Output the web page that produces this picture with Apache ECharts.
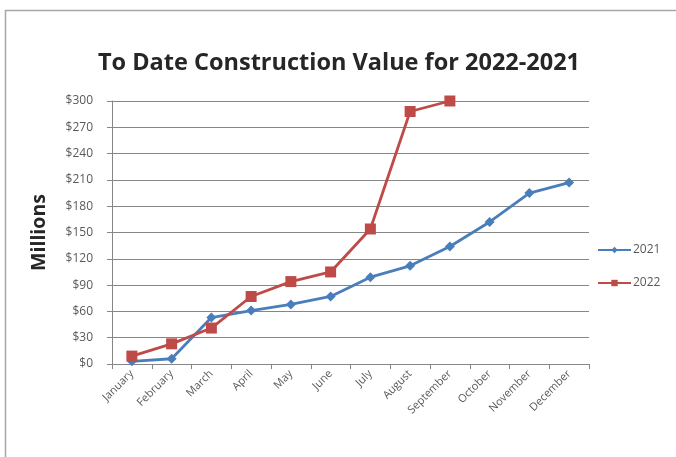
<!DOCTYPE html>
<html>
<head>
<meta charset="utf-8">
<script src="https://cdn.jsdelivr.net/npm/echarts@6/dist/echarts.min.js"></script>
<style>
  html, body { margin: 0; padding: 0; background: #fff; }
  #chart { width: 676px; height: 457px; }
</style>
</head>
<body>
<div id="chart"></div>
<script>
var months = ['January', 'February', 'March', 'April', 'May', 'June', 'July',
    'August', 'September', 'October', 'November', 'December'];
var values2021 = [3, 6, 53, 61, 68, 77, 99, 112, 134, 162, 195, 207];
var values2022 = [9, 23, 41, 77, 94, 105, 154, 288, 300];
var yTicks = [0, 30, 60, 90, 120, 150, 180, 210, 240, 270, 300];

var chart = echarts.init(document.getElementById('chart'));

var gray = '#868686';
var labelColor = '#595959';
var font = 'Open Sans';

chart.setOption({
    animation: false,
    backgroundColor: '#fff',
    title: {
        text: 'To Date Construction Value for 2022-2021',
        left: 334,
        textAlign: 'center',
        top: 46,
        textStyle: {
            fontFamily: font,
            fontWeight: 'bold',
            fontSize: 23.5,
            color: '#262626'
        }
    },
    legend: {
        orient: 'vertical',
        left: 597,
        top: 244,
        padding: 0,
        itemGap: 21,
        itemWidth: 33,
        itemHeight: 8,
        textStyle: { fontFamily: font, fontSize: 12, color: labelColor, padding: [0, 0, 0, -3] },
        data: ['2021', '2022']
    },
    graphic: [{
        type: 'rect',
        shape: { x: 5.5, y: 10.5, width: 700, height: 500 },
        style: { fill: 'none', stroke: '#a6a6a6', lineWidth: 1.5 },
        silent: true
    }],
    grid: { left: 112, right: 87, top: 101, bottom: 93 },
    xAxis: {
        type: 'category',
        data: months,
        boundaryGap: true,
        axisLine: { lineStyle: { color: gray, width: 1 } },
        axisTick: { show: true, length: 5, lineStyle: { color: gray } },
        axisLabel: {
            rotate: 45,
            interval: 0,
            margin: 8,
            fontFamily: font,
            fontSize: 11,
            color: labelColor
        }
    },
    yAxis: {
        type: 'value',
        min: 0,
        max: 300,
        interval: 30,
        name: 'Millions',
        nameLocation: 'middle',
        nameGap: 63,
        nameTextStyle: { fontFamily: font, fontWeight: 'bold', fontSize: 19.5, color: '#262626' },
        axisLine: { show: true, lineStyle: { color: gray, width: 1 } },
        axisTick: { show: true, length: 5, lineStyle: { color: gray } },
        splitLine: { lineStyle: { color: gray, width: 1 } },
        axisLabel: {
            fontFamily: font,
            fontSize: 12,
            color: labelColor,
            margin: 19,
            formatter: function (v) {
                return yTicks.indexOf(v) >= 0 ? '$' + v : '';
            }
        }
    },
    series: [
        {
            name: '2021',
            type: 'line',
            data: values2021,
            symbol: 'diamond',
            symbolSize: 10,
            lineStyle: { color: '#4A7EBB', width: 2.8 },
            itemStyle: { color: '#4A7EBB' },
            z: 2
        },
        {
            name: '2022',
            type: 'line',
            data: values2022,
            symbol: 'rect',
            symbolSize: 11,
            lineStyle: { color: '#BE4B48', width: 2.8 },
            itemStyle: { color: '#BE4B48' },
            z: 3
        }
    ]
});
</script>
</body>
</html>
